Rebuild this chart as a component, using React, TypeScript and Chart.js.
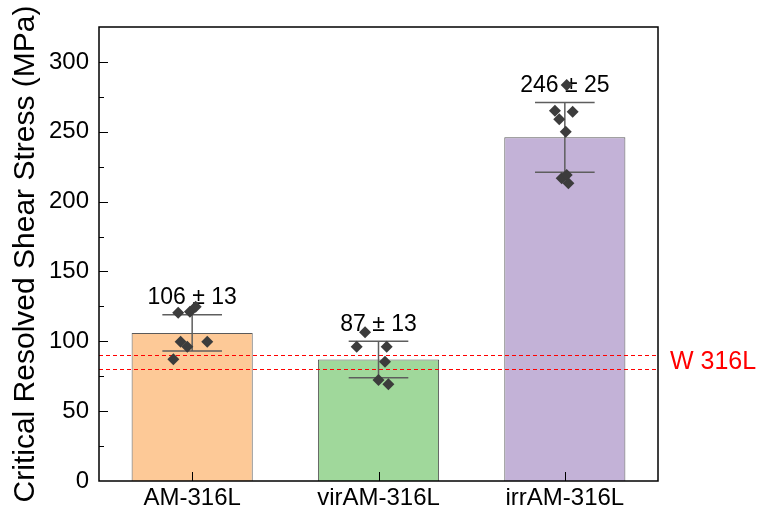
import { useEffect, useRef } from "react";
import { Chart, registerables } from "chart.js";

Chart.register(...registerables);

// Sample groups and their summary statistics (MPa)
const categories = ["AM-316L", "virAM-316L", "irrAM-316L"];
const meanValues = [106, 87, 246];
const sdValues = [13, 13, 25];
const barColors = ["#FDC997", "#A0D89B", "#C3B2D7"];

// Individual measurements: horizontal jitter (category units) and CRSS value
const amJitter = [-0.075, -0.012, 0.019, -0.062, -0.026, 0.081, -0.101];
const amValues = [120.5, 121.2, 124.8, 99.7, 96.1, 99.7, 87.1];
const virJitter = [-0.072, -0.117, 0.044, 0.035, 0.0, 0.053];
const virValues = [106.4, 96.1, 96.1, 85.4, 72.3, 69.2];
const irrJitter = [0.01, -0.053, 0.042, -0.03, 0.005, -0.017, 0.01, 0.019];
const irrValues = [283.5, 265.1, 264.4, 258.9, 250.0, 216.7, 219.0, 213.1];

// Wrought 316L reference band
const referenceBand = [80, 90];
const referenceLabel = "W 316L";

// Axis range
const yMin = 0;
const yMax = 325;
const yStep = 25;
const yLabelStep = 50;

const FONT = "'Liberation Sans', Arial, Helvetica, sans-serif";
const RED = "rgb(255, 0, 0)";

const jitterGroups = [amJitter, virJitter, irrJitter];
const valueGroups = [amValues, virValues, irrValues];

const drawOverlay = {
  id: "crssOverlay",
  afterDatasetDraw(chart: any, args: any) {
    if (args.index !== 0) return;
    const ctx: CanvasRenderingContext2D = chart.ctx;
    const { chartArea, scales } = chart;
    const x = scales.x;
    const y = scales.y;

    // dashed reference lines
    ctx.save();
    ctx.globalAlpha = 1;
    ctx.globalCompositeOperation = "source-over";
    ctx.strokeStyle = RED;
    ctx.lineWidth = 1;
    ctx.setLineDash([4, 3]);
    referenceBand.forEach((v) => {
      const py = Math.round(y.getPixelForValue(v)) + 0.5;
      ctx.beginPath();
      ctx.moveTo(chartArea.left, py);
      ctx.lineTo(chartArea.right, py);
      ctx.stroke();
    });
    ctx.restore();

    // error bars (mean ± sd)
    ctx.save();
    const capHalf = x.getPixelForValue(0.16) - x.getPixelForValue(0);
    ctx.strokeStyle = "#5E5E5E";
    ctx.lineWidth = 1.5;
    categories.forEach((_, i) => {
      const px = x.getPixelForValue(i);
      const hi = y.getPixelForValue(meanValues[i] + sdValues[i]);
      const lo = y.getPixelForValue(meanValues[i] - sdValues[i]);
      ctx.beginPath();
      ctx.moveTo(px, hi);
      ctx.lineTo(px, lo);
      ctx.moveTo(px - capHalf, hi);
      ctx.lineTo(px + capHalf, hi);
      ctx.moveTo(px - capHalf, lo);
      ctx.lineTo(px + capHalf, lo);
      ctx.stroke();
    });

    // value labels
    ctx.fillStyle = "#000";
    ctx.font = `23px ${FONT}`;
    ctx.textAlign = "center";
    ctx.textBaseline = "middle";
    categories.forEach((_, i) => {
      const px = x.getPixelForValue(i);
      const hi = y.getPixelForValue(meanValues[i] + sdValues[i]);
      ctx.fillText(`${meanValues[i]} ± ${sdValues[i]}`, px, hi - 17);
    });
    ctx.restore();
  },
  afterDraw(chart: any) {
    const ctx: CanvasRenderingContext2D = chart.ctx;
    const { chartArea, scales } = chart;
    const x = scales.x;
    const y = scales.y;
    const { left, right, top, bottom } = chartArea;
    ctx.save();
    ctx.strokeStyle = "#000";

    // inward ticks
    ctx.lineWidth = 1;
    ctx.beginPath();
    y.ticks.forEach((t: any) => {
      if (t.value <= yMin || t.value >= yMax) return;
      const py = Math.round(y.getPixelForValue(t.value)) + 0.5;
      const len = t.value % yLabelStep === 0 ? 9 : 5;
      ctx.moveTo(left, py);
      ctx.lineTo(left + len, py);
    });
    categories.forEach((_, i) => {
      const px = Math.round(x.getPixelForValue(i)) + 0.5;
      ctx.moveTo(px, bottom);
      ctx.lineTo(px, bottom - 9);
    });
    ctx.stroke();

    // frame
    ctx.lineWidth = 1.5;
    ctx.strokeRect(left, top, right - left, bottom - top);

    // reference band label
    ctx.fillStyle = RED;
    ctx.font = `25px ${FONT}`;
    ctx.textAlign = "left";
    ctx.textBaseline = "middle";
    const mid = (referenceBand[0] + referenceBand[1]) / 2;
    ctx.fillText(referenceLabel, right + 12, y.getPixelForValue(mid));
    ctx.restore();
  },
};

export default function App() {
  const canvasRef = useRef<HTMLCanvasElement | null>(null);

  useEffect(() => {
    document.body.style.margin = "0";
    const canvas = canvasRef.current;
    if (!canvas) return;

    const points: { x: number; y: number }[] = [];
    valueGroups.forEach((vals, g) => {
      vals.forEach((v, k) => points.push({ x: g + jitterGroups[g][k], y: v }));
    });

    const chart = new Chart(canvas, {
      type: "bar",
      data: {
        datasets: [
          {
            type: "bar",
            data: categories.map((_, i) => ({ x: i, y: meanValues[i] })) as any,
            backgroundColor: barColors,
            borderColor: "#5A5A5A",
            borderWidth: 1,
            barPercentage: 0.65,
            categoryPercentage: 1,
            order: 2,
          },
          {
            type: "scatter",
            data: points as any,
            pointStyle: "rectRot",
            radius: 6,
            backgroundColor: "#3C3C3C",
            borderColor: "#3C3C3C",
            borderWidth: 0,
            order: 1,
          } as any,
        ],
      },
      options: {
        responsive: false,
        animation: false,
        layout: { padding: { left: 0, top: 27, right: 102, bottom: 0 } },
        plugins: { legend: { display: false }, tooltip: { enabled: false } },
        scales: {
          x: {
            type: "linear",
            min: -0.5,
            max: 2.5,
            offset: false,
            grid: { display: false, drawTicks: false, offset: false },
            border: { display: false },
            afterBuildTicks: (scale: any) => {
              scale.ticks = categories.map((_, i) => ({ value: i }));
            },
            afterFit: (scale: any) => {
              scale.height = 35;
            },
            ticks: {
              autoSkip: false,
              maxRotation: 0,
              padding: 3,
              color: "#000",
              font: { family: FONT, size: 24 },
              callback: (v: any) => categories[Math.round(Number(v))] ?? "",
            },
          },
          y: {
            min: yMin,
            max: yMax,
            grid: { display: false, drawTicks: false },
            border: { display: false },
            afterFit: (scale: any) => {
              scale.width = 99;
            },
            ticks: {
              stepSize: yStep,
              autoSkip: false,
              padding: 10,
              color: "#000",
              font: { family: FONT, size: 24 },
              callback: (v: any) => (Number(v) % yLabelStep === 0 ? String(v) : ""),
            },
            title: {
              display: true,
              text: "Critical Resolved Shear Stress (MPa)",
              color: "#000",
              font: { family: FONT, size: 30 },
              padding: { top: 8, bottom: 0 },
            },
          },
        },
      } as any,
      plugins: [drawOverlay],
    });

    return () => chart.destroy();
  }, []);

  return (
    <div style={{ width: 760, height: 516 }}>
      <canvas ref={canvasRef} width={760} height={516} style={{ display: "block" }} />
    </div>
  );
}
